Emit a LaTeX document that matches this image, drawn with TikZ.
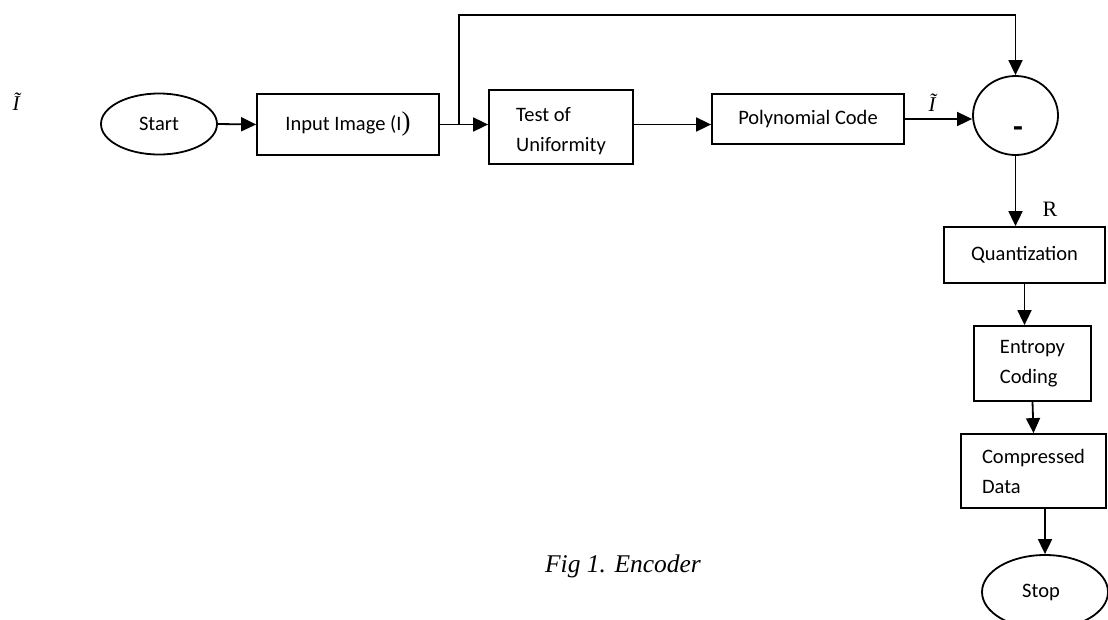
\documentclass[tikz,border=0pt]{standalone}
\usepackage{fontspec}
\setmainfont{Carlito}
\newfontfamily\tms{Liberation Serif}
\usetikzlibrary{arrows.meta,shapes.geometric}
\begin{document}
\begin{tikzpicture}[x=1pt,y=-1pt,
  every node/.style={font=\fontsize{20.5}{30}\selectfont},
  box/.style={draw,line width=1.8pt,rectangle,inner sep=0pt,align=left},
  term/.style={draw,line width=1.8pt,ellipse,inner sep=0pt},
  conn/.style={line width=1.8pt,-{Triangle[length=15pt,width=14pt]}},
  lbl/.style={font=\tms\itshape\fontsize{21}{24}\selectfont},
]
\useasboundingbox (0,0) rectangle (1108,619);

\node[term,minimum width=116pt,minimum height=61pt] (start) at (159,124) {Start};
\node[box,minimum width=182pt,minimum height=61pt] (input) at (348,124.5) {Input Image (I{\tms\fontsize{27}{30}\selectfont )}};
\node[box,minimum width=144pt,minimum height=74pt] (test) at (561,127) {};
\node[align=left,inner sep=0pt] (testtxt) at (561,131) {Test of\\Uniformity};
\node[box,minimum width=192pt,minimum height=50pt] (poly) at (808,119) {Polynomial Code};
\node[term,minimum width=85pt,minimum height=79pt] (diff) at (1015.5,115.5) {};
\node[font=\bfseries\fontsize{32}{32}\selectfont] (minus) at (1018,132) {-};
\node[box,minimum width=161pt,minimum height=56pt] (quant) at (1024.5,255) {Quantization};
\node[box,minimum width=117pt,minimum height=75pt] (entropy) at (1032.5,363.5) {Entropy\\Coding};
\node[box,minimum width=145pt,minimum height=74pt] (comp) at (1033.5,471) {Compressed\\Data};
\node[term,minimum width=126pt,minimum height=74pt] (stop) at (1045,592) {\hspace*{-8pt}Stop};

\node[lbl] (itl) at (16,102) {Ĩ};
\node[lbl] (itp) at (932,103) {Ĩ};
\node[font=\tms\fontsize{22}{24}\selectfont] (rlab) at (1050,209) {R};
\node[font=\tms\itshape\fontsize{25.5}{28}\selectfont] (cap) at (623,566) {Fig 1. Encoder};

\coordinate (br) at (459,0);
\coordinate (topc) at (459,15);

\draw[conn] (start.east) -- (input.west);
\draw[conn] (input.east) -- (input.east -| test.west);
\draw[conn] (br |- input.east) -- (topc) -- (topc -| diff.north) -- (diff.north);
\draw[conn] (test.east |- input.east) -- (input.east -| poly.west);
\draw[conn] (poly.east) -- (poly.east -| diff.west);
\draw[conn] (diff.south) -- (diff.south |- quant.north);
\draw[conn] (quant.south) -- (quant.south |- entropy.north);
\draw[conn] (entropy.south) -- (comp.north);
\draw[conn] (comp.south -| stop.north) -- (stop.north);
\end{tikzpicture}
\end{document}
